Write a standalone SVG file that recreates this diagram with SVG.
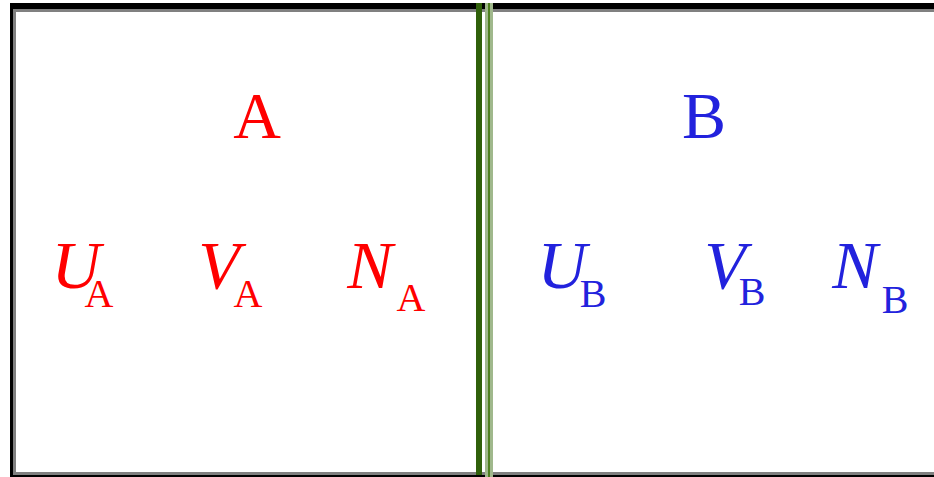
<svg xmlns="http://www.w3.org/2000/svg" width="934" height="477" viewBox="0 0 934 477">
<style>
.t{font-family:"Liberation Serif","Times New Roman",serif;text-anchor:middle}
.i{font-style:italic;font-size:68px}
.s{font-size:40px}
.h{font-size:66px}
.r{fill:#ff0000}
.b{fill:#2222dd}
</style>
<rect x="0" y="0" width="934" height="477" fill="#ffffff"/>
<g id="frame">
<rect x="10" y="3" width="924" height="6" fill="#000000"/>
<rect x="13" y="9" width="921" height="3" fill="#808080"/>
<rect x="10" y="3" width="3" height="474" fill="#000000"/>
<rect x="13" y="9" width="3" height="466" fill="#808080"/>
<rect x="16" y="472" width="918" height="3" fill="#808080"/>
<rect x="10" y="475" width="924" height="2" fill="#000000"/>
</g>
<g id="divider">
<rect x="476" y="3" width="6" height="472" fill="#30600a"/>
<rect x="485" y="3" width="8" height="474" fill="#a0b88c"/>
<rect x="488" y="3" width="2" height="474" fill="#4f8020"/>
</g>
<g id="systemA">
<text class="t h r" x="257" y="138">A</text>
<text class="t i r" x="76" y="288">U</text>
<text class="t s r" x="99" y="307">A</text>
<text class="t i r" x="219" y="288">V</text>
<text class="t s r" x="248" y="307">A</text>
<text class="t i r" x="370" y="288">N</text>
<text class="t s r" x="411" y="311">A</text>
</g>
<g id="systemB">
<text class="t h b" x="704" y="138">B</text>
<text class="t i b" x="562" y="288">U</text>
<text class="t s b" x="593" y="307">B</text>
<text class="t i b" x="725" y="288">V</text>
<text class="t s b" x="752" y="305">B</text>
<text class="t i b" x="855" y="288">N</text>
<text class="t s b" x="895" y="313">B</text>
</g>
</svg>
